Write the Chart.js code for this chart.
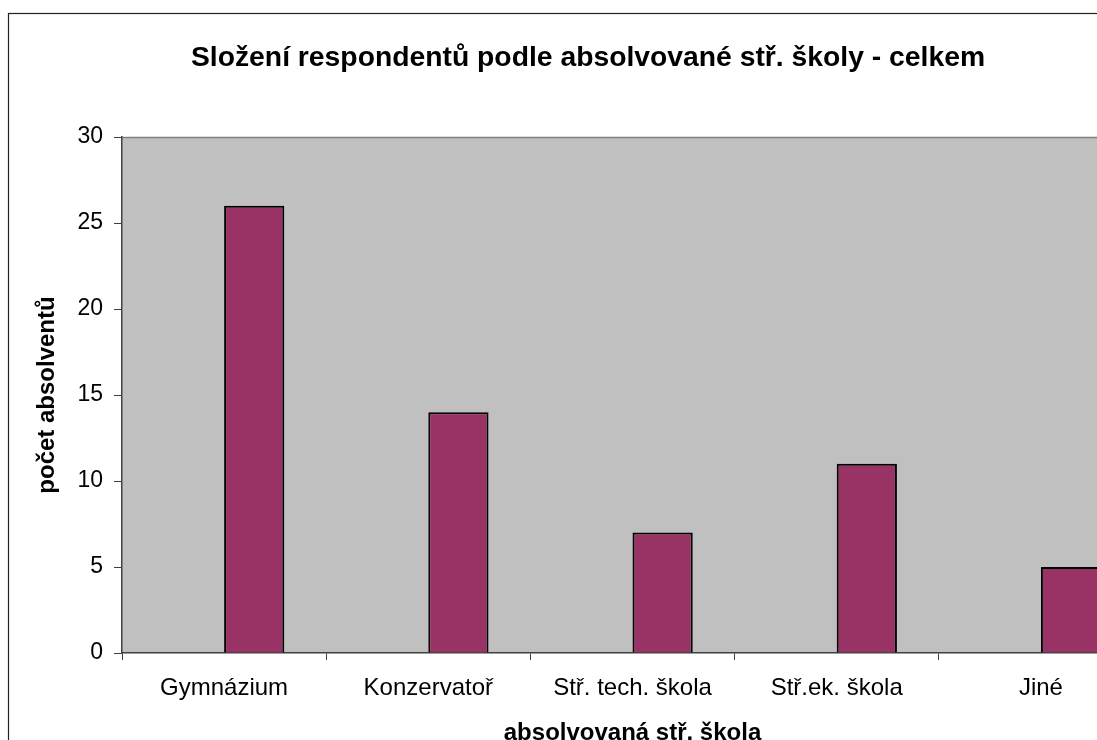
<!DOCTYPE html>
<html>
<head>
<meta charset="utf-8">
<script src="https://cdn.jsdelivr.net/npm/chart.js@4/dist/chart.umd.min.js"></script>
<style>
  html, body { margin: 0; padding: 0; overflow: hidden; background: #fff; }
  canvas { display: block; }
</style>
</head>
<body>
<canvas id="chart" width="1176" height="780"></canvas>
<script>
  // ===== DATA =====
  const categories = ["Gymnázium", "Konzervatoř", "Stř. tech. škola", "Stř.ek. škola", "Jiné"];
  const graduates = [26, 14, 7, 11, 5];
  const emptySeries = [null, null, null, null, null]; // unused first series, keeps bars right of centre
  const yMin = 0;
  const yMax = 30;
  const yStep = 5;

  const chartTitle = "Složení respondentů podle absolvované stř. školy - celkem";
  const xTitle = "absolvovaná stř. škola";
  const yTitle = "počet absolventů";

  const family = "'Liberation Sans', Arial, sans-serif";

  // ===== BACKGROUND, FRAME, TITLE =====
  const framePlugin = {
    id: "framePlugin",
    beforeDraw(chart) {
      const { ctx, chartArea: a } = chart;
      ctx.save();
      ctx.fillStyle = "#c0c0c0";
      ctx.fillRect(a.left, a.top, a.right - a.left, a.bottom - a.top);

      ctx.strokeStyle = "#808080";
      ctx.lineWidth = 1.5;
      ctx.beginPath();
      ctx.moveTo(a.left, a.top + 0.5);
      ctx.lineTo(a.right, a.top + 0.5);
      ctx.stroke();

      ctx.strokeStyle = "#222";
      ctx.lineWidth = 1.2;
      ctx.strokeRect(8.5, 13.5, 1160, 820);

      ctx.fillStyle = "#000";
      ctx.font = "bold 28.3px " + family;
      ctx.textAlign = "center";
      ctx.textBaseline = "middle";
      ctx.fillText(chartTitle, 588, 58);
      ctx.restore();
    }
  };

  new Chart(document.getElementById("chart"), {
    type: "bar",
    data: {
      labels: categories,
      datasets: [
        { label: "", data: emptySeries },
        {
          label: yTitle,
          data: graduates,
          backgroundColor: "#993366",
          borderColor: "#000",
          borderWidth: 2
        }
      ]
    },
    options: {
      responsive: false,
      animation: false,
      layout: { padding: { top: 137, right: 33, left: 0, bottom: 0 } },
      datasets: { bar: { categoryPercentage: 0.59, barPercentage: 1 } },
      plugins: {
        legend: { display: false },
        tooltip: { enabled: false },
        title: { display: false }
      },
      scales: {
        x: {
          grid: { drawOnChartArea: false, tickLength: 7, color: "#404040", offset: true },
          border: { color: "#404040", width: 1.5 },
          ticks: { color: "#000", font: { size: 24, family }, padding: 14, maxRotation: 0, autoSkip: false },
          title: {
            display: true, text: xTitle, color: "#000",
            font: { size: 24, weight: "bold", family },
            padding: { top: 0, bottom: 32 }
          },
          afterFit: s => { s.height = 127; }
        },
        y: {
          min: yMin,
          max: yMax,
          ticks: { stepSize: yStep, color: "#000", font: { size: 23, family }, padding: 11 },
          grid: { drawOnChartArea: false, tickLength: 8, color: "#404040" },
          border: { color: "#404040", width: 1.5 },
          title: {
            display: true, text: yTitle, color: "#000",
            font: { size: 24, weight: "bold", family },
            padding: { top: 33, bottom: 0 }
          },
          afterFit: s => { s.width = 122; }
        }
      }
    },
    plugins: [framePlugin]
  });
</script>
</body>
</html>
